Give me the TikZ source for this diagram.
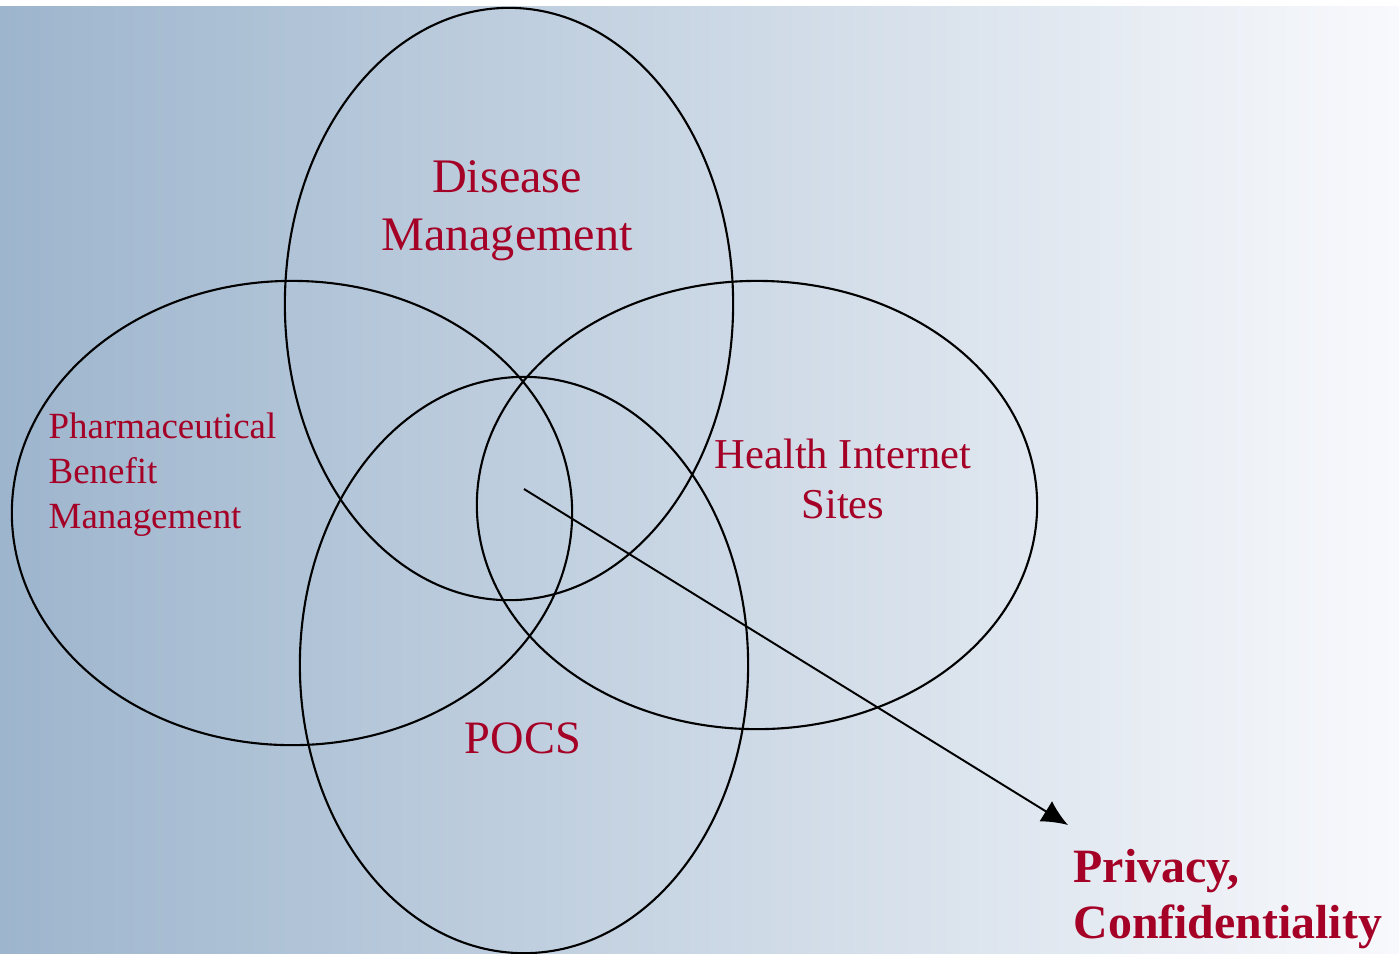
\documentclass[tikz,border=0pt]{standalone}
\usepackage{fontspec}
\setmainfont{Liberation Serif}
\usetikzlibrary{shapes.geometric, arrows.meta, positioning}
\definecolor{venntext}{RGB}{165,0,38}
\definecolor{bgleft}{RGB}{157,181,205}
\definecolor{bgright}{RGB}{248,249,252}

\begin{document}
\begin{tikzpicture}[x=0.01cm, y=-0.01cm,
    blob/.style={ellipse, draw, line width=0.6pt, inner sep=0pt},
    tag/.style={text=venntext, inner sep=0pt}]
    \useasboundingbox (0,0) rectangle (1399,953);
    \shade[left color=bgleft, right color=bgright] (0,6) rectangle (1399,953);

    % the four areas
    \node[blob, minimum width=4.48cm, minimum height=5.92cm] (dm) at (509,304) {};
    \node[blob, minimum width=5.60cm, minimum height=4.64cm] (pbm) at (292,513) {};
    \node[blob, minimum width=5.60cm, minimum height=4.48cm] (his) at (757,505) {};
    \node[blob, minimum width=4.48cm, minimum height=5.76cm] (pocs) at (524,665) {};

    \node[tag, align=center, font=\fontsize{13.7}{16.5}\selectfont] (dmtext) at (507,211) {Disease\\Management};
    \node[tag, align=left, anchor=west, font=\fontsize{10.5}{12.8}\selectfont] (pbmtext) at (48,475) {Pharmaceutical\\Benefit\\Management};
    \node[tag, align=center, font=\fontsize{12.1}{14.2}\selectfont] (histext) at (843,479) {Health Internet\\Sites};
    \node[tag, anchor=base, font=\fontsize{13.2}{15.7}\selectfont] (pocstext) at (523,753) {POCS};

    \coordinate (core) at (524,489);
    \coordinate (tip) at (1068,825);
    \node[tag, align=left, anchor=west, font=\fontsize{13.6}{15.7}\selectfont\bfseries] (privtext) at (1073,899) {Privacy,\\Confidentiality};

    \draw[-{Latex[length=0.26cm,width=0.24cm]}, line width=0.55pt] (core) -- (tip);
\end{tikzpicture}
\end{document}
